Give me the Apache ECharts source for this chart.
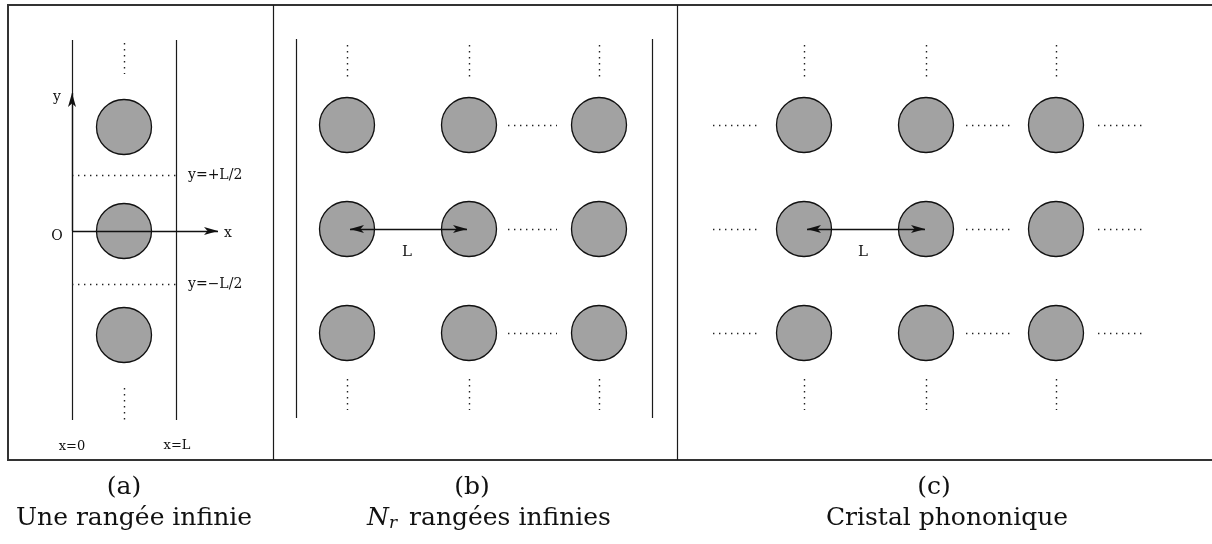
<!DOCTYPE html>
<html>
<head>
<meta charset="utf-8">
<title>Rangées infinies et cristal phononique</title>
<script src="https://cdn.jsdelivr.net/npm/echarts@6/dist/echarts.min.js"></script>
<style>
  html, body { margin: 0; padding: 0; background: #fff; }
  #chart { width: 1212px; height: 544px; }
</style>
</head>
<body>
<div id="chart"></div>
<script>
// coordinates are in drawing units (1 unit = 1 px of the figure, y pointing down)

// (a) une rangée infinie
const rowsA = [127, 231, 335];
const colsA = [124];
const wallsA = [72, 176];
const halfCellA = [175, 284];      // y=+L/2 , y=-L/2

// (b) Nr rangées infinies
const rowsB = [125, 229, 333];
const colsB = [347, 469, 599];
const wallsB = [296, 652];

// (c) cristal phononique
const rowsC = [125, 229, 333];
const colsC = [804, 926, 1056];

// cadre et séparations
const panelEdges = [8, 273, 677, 1215];
const frameY = [5, 460];

const captions = [
  { x: 124, xt: 134, title: '(a)', text: 'Une rangée infinie' },
  { x: 472, xt: 489, title: '(b)', text: '{n|N}{r|r} rangées infinies' },
  { x: 934, xt: 947, title: '(c)', text: 'Cristal phononique' }
];

// ---- build segments ----
function seg(x1, y1, x2, y2) {
  return { coords: [[x1, y1], [x2, y2]] };
}

let frame = [];
frame.push({ coords: [[panelEdges[3], frameY[0]], [panelEdges[0], frameY[0]], [panelEdges[0], frameY[1]], [panelEdges[3], frameY[1]]] });

let solid = [];
solid.push(seg(panelEdges[1], frameY[0], panelEdges[1], frameY[1]));
solid.push(seg(panelEdges[2], frameY[0], panelEdges[2], frameY[1]));
wallsA.forEach(x => solid.push(seg(x, 40, x, 420)));
wallsB.forEach(x => solid.push(seg(x, 39, x, 418)));

let dots = [];
colsA.forEach(x => {
  dots.push(seg(x, 43, x, 74));
  dots.push(seg(x, 388, x, 420));
});
halfCellA.forEach(y => dots.push(seg(wallsA[0], y, wallsA[1], y)));
colsB.concat(colsC).forEach(x => {
  dots.push(seg(x, 45, x, 77));
  dots.push(seg(x, 379, x, 410));
});
rowsB.forEach(y => dots.push(seg(colsB[1] + 39, y, colsB[2] - 42, y)));
rowsC.forEach(y => {
  dots.push(seg(colsC[0] - 91, y, colsC[0] - 43, y));
  dots.push(seg(colsC[1] + 40, y, colsC[2] - 42, y));
  dots.push(seg(colsC[2] + 42, y, colsC[2] + 90, y));
});

let arrows = [
  { coords: [[wallsA[0], rowsA[1]], [wallsA[0], 93]], symbol: ['none', 'arrow'] },
  { coords: [[wallsA[0], rowsA[1]], [218, rowsA[1]]], symbol: ['none', 'arrow'] },
  { coords: [[colsB[0] + 3, rowsB[1]], [colsB[1] - 2, rowsB[1]]], symbol: ['arrow', 'arrow'] },
  { coords: [[colsC[0] + 3, rowsC[1]], [colsC[1] - 1, rowsC[1]]], symbol: ['arrow', 'arrow'] }
];

let circles = [];
colsA.forEach(x => rowsA.forEach(y => circles.push([x, y])));
colsB.forEach(x => rowsB.forEach(y => circles.push([x, y])));
colsC.forEach(x => rowsC.forEach(y => circles.push([x, y])));

// ---- texts ----
const serif = '"DejaVu Serif", "Liberation Serif", serif';
function label(x, y, text, size, align) {
  return {
    type: 'text', x: x, y: y, silent: true,
    style: { text: text, fontFamily: serif, fontSize: size, fill: '#111', align: align || 'center', verticalAlign: 'middle' }
  };
}

let texts = [
  label(57, 97, 'y', 14),
  label(57, 236, 'O', 14),
  label(228, 233, 'x', 14),
  label(188, 175, 'y=+L/2', 14, 'left'),
  label(188, 284, 'y=\u2212L/2', 14, 'left'),
  label(72, 447, 'x=0', 13),
  label(177, 446, 'x=L', 13),
  label(407, 252, 'L', 15),
  label(863, 252, 'L', 15)
];
captions.forEach(c => {
  texts.push(label(c.x, 487, c.title, 25));
  let t = label(c.xt, 518, c.text, 25);
  t.style.rich = {
    n: { fontFamily: serif, fontSize: 25, fontStyle: 'italic' },
    r: { fontFamily: serif, fontSize: 17, fontStyle: 'italic', verticalAlign: 'bottom', padding: [12, 4, 0, 0] }
  };
  texts.push(t);
});

let myChart = echarts.init(document.getElementById('chart'));
myChart.setOption({
  animation: false,
  backgroundColor: '#fff',
  grid: { left: 0, right: 0, top: 0, bottom: 0 },
  xAxis: { type: 'value', min: 0, max: 1212, show: false },
  yAxis: { type: 'value', min: 0, max: 544, inverse: true, show: false },
  series: [
    {
      type: 'lines',
      coordinateSystem: 'cartesian2d',
      polyline: true,
      silent: true,
      lineStyle: { color: '#333', width: 2, opacity: 1 },
      data: frame
    },
    {
      type: 'lines',
      coordinateSystem: 'cartesian2d',
      silent: true,
      lineStyle: { color: '#1a1a1a', width: 1.2, opacity: 1 },
      data: solid
    },
    {
      type: 'lines',
      coordinateSystem: 'cartesian2d',
      silent: true,
      lineStyle: { color: '#222', width: 1.4, type: [1.4, 4.6], opacity: 1 },
      data: dots
    },
    {
      type: 'scatter',
      silent: true,
      symbol: 'circle',
      symbolSize: 55,
      itemStyle: { color: '#a2a2a2', borderColor: '#111', borderWidth: 1.3, opacity: 1 },
      data: circles,
      z: 3
    },
    {
      type: 'lines',
      coordinateSystem: 'cartesian2d',
      silent: true,
      symbolSize: [[6, 14], [6, 14]],
      lineStyle: { color: '#111', width: 1.3, opacity: 1 },
      data: arrows,
      z: 4
    }
  ],
  graphic: texts
});
</script>
</body>
</html>
